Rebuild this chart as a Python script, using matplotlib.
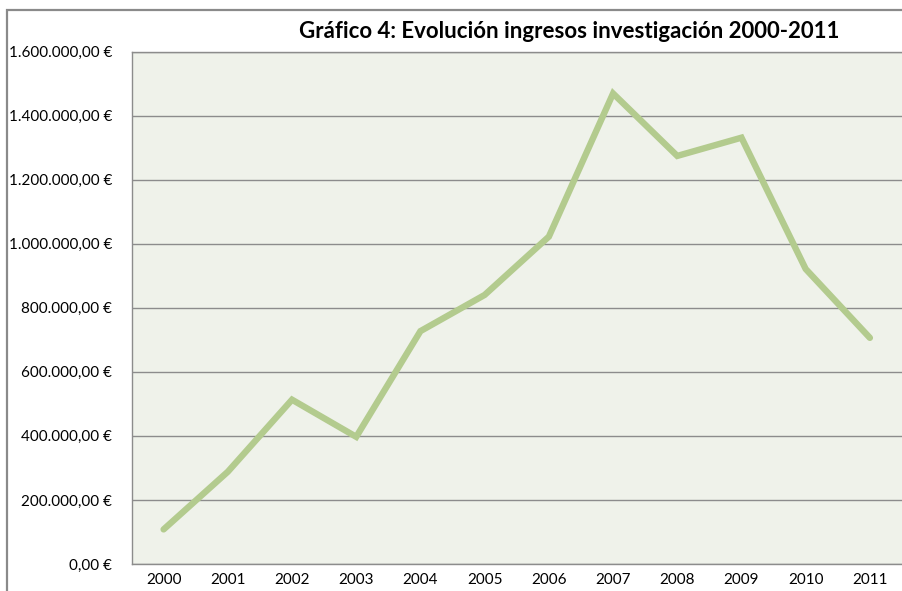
import matplotlib
matplotlib.use("Agg")
import matplotlib.pyplot as plt
from matplotlib.patches import Rectangle
from matplotlib.ticker import FuncFormatter, MultipleLocator

# Data (euros per year)
years = ['2000', '2001', '2002', '2003', '2004', '2005',
         '2006', '2007', '2008', '2009', '2010', '2011']
ingresos = [108000, 288000, 513000, 397000, 727000, 840000,
            1022000, 1469000, 1274000, 1331000, 921000, 706000]

title = 'Gráfico 4: Evolución ingresos investigación 2000-2011'

plt.rcParams['font.family'] = ['Lato', 'DejaVu Sans']

fig = plt.figure(figsize=(9.02, 5.91), dpi=100)
W, H = 902, 591

# outer chart border (cut off on right and bottom like the source)
fig.patches.append(Rectangle((7 / W, -0.1), 1.2, (H - 10) / H + 0.1,
                             transform=fig.transFigure, fill=False,
                             edgecolor='#8a8a8a', linewidth=1.6))

ax = fig.add_axes([131.5 / W, (H - 564) / H, (W - 131.5) / W, (564 - 51.5) / H])
ax.set_facecolor('#eff2ea')

x = range(len(years))
ax.plot(x, ingresos, color='#b3cb8e', linewidth=4.6, solid_capstyle='round',
        solid_joinstyle='miter')

ax.set_xlim(-0.5, len(years) - 0.5)
ax.set_ylim(0, 1600000)
ax.yaxis.set_major_locator(MultipleLocator(200000))


def euro(v, pos):
    s = '{:,.2f}'.format(v)
    s = s.replace(',', 'X').replace('.', ',').replace('X', '.')
    return s + ' €'


ax.yaxis.set_major_formatter(FuncFormatter(euro))
ax.set_xticks(list(x))
ax.set_xticklabels(years)

ax.grid(axis='y', color='#8c8c8c', linewidth=1.0)
ax.set_axisbelow(True)
ax.tick_params(length=0, labelsize=11, colors='#000000')
ax.tick_params(axis='y', pad=14)
ax.tick_params(axis='x', pad=6.5)

for side in ['left', 'top', 'bottom']:
    ax.spines[side].set_color('#8c8c8c')
    ax.spines[side].set_linewidth(1.0)
ax.spines['right'].set_visible(False)

fig.text(569 / W, (H - 31) / H, title, ha='center', va='center',
         fontsize=16, fontweight='bold', color='#000000')

fig.savefig('out.png', dpi=100)
